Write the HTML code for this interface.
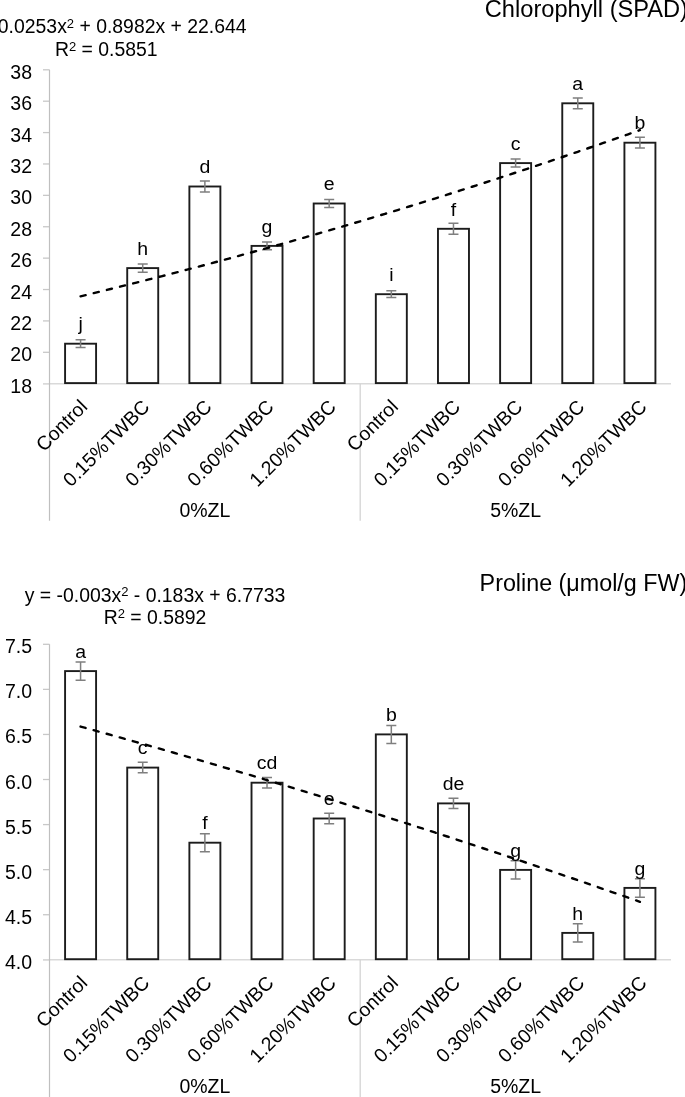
<!DOCTYPE html>
<html><head><meta charset="utf-8"><style>
html,body{margin:0;padding:0;background:#fff;}
svg{display:block;will-change:transform;}
text{font-family:"Liberation Sans",sans-serif;fill:#000;}
</style></head><body>
<svg width="685" height="1097" viewBox="0 0 685 1097">
<rect width="685" height="1097" fill="#fff"/>

<line x1="43" y1="69.80" x2="49.5" y2="69.80" stroke="#c8c8c8" stroke-width="1.3"/>
<text x="32" y="78.80" font-size="19.5" text-anchor="end">38</text>
<line x1="43" y1="101.19" x2="49.5" y2="101.19" stroke="#c8c8c8" stroke-width="1.3"/>
<text x="32" y="110.19" font-size="19.5" text-anchor="end">36</text>
<line x1="43" y1="132.58" x2="49.5" y2="132.58" stroke="#c8c8c8" stroke-width="1.3"/>
<text x="32" y="141.58" font-size="19.5" text-anchor="end">34</text>
<line x1="43" y1="163.97" x2="49.5" y2="163.97" stroke="#c8c8c8" stroke-width="1.3"/>
<text x="32" y="172.97" font-size="19.5" text-anchor="end">32</text>
<line x1="43" y1="195.36" x2="49.5" y2="195.36" stroke="#c8c8c8" stroke-width="1.3"/>
<text x="32" y="204.36" font-size="19.5" text-anchor="end">30</text>
<line x1="43" y1="226.75" x2="49.5" y2="226.75" stroke="#c8c8c8" stroke-width="1.3"/>
<text x="32" y="235.75" font-size="19.5" text-anchor="end">28</text>
<line x1="43" y1="258.14" x2="49.5" y2="258.14" stroke="#c8c8c8" stroke-width="1.3"/>
<text x="32" y="267.14" font-size="19.5" text-anchor="end">26</text>
<line x1="43" y1="289.53" x2="49.5" y2="289.53" stroke="#c8c8c8" stroke-width="1.3"/>
<text x="32" y="298.53" font-size="19.5" text-anchor="end">24</text>
<line x1="43" y1="320.92" x2="49.5" y2="320.92" stroke="#c8c8c8" stroke-width="1.3"/>
<text x="32" y="329.92" font-size="19.5" text-anchor="end">22</text>
<line x1="43" y1="352.31" x2="49.5" y2="352.31" stroke="#c8c8c8" stroke-width="1.3"/>
<text x="32" y="361.31" font-size="19.5" text-anchor="end">20</text>
<line x1="43" y1="383.70" x2="49.5" y2="383.70" stroke="#c8c8c8" stroke-width="1.3"/>
<text x="32" y="392.70" font-size="19.5" text-anchor="end">18</text>
<line x1="43" y1="383.7" x2="671" y2="383.7" stroke="#d9d9d9" stroke-width="1.6"/>
<line x1="49.5" y1="69.8" x2="49.5" y2="520.7" stroke="#bfbfbf" stroke-width="1.2"/>
<line x1="360.2" y1="383.7" x2="360.2" y2="520.7" stroke="#d4d4d4" stroke-width="1.3"/>
<rect x="65.08" y="343.7" width="31.0" height="39.40" fill="#fff" stroke="#1c1c1c" stroke-width="1.9"/>
<rect x="127.22" y="268.1" width="31.0" height="115.00" fill="#fff" stroke="#1c1c1c" stroke-width="1.9"/>
<rect x="189.38" y="186.5" width="31.0" height="196.60" fill="#fff" stroke="#1c1c1c" stroke-width="1.9"/>
<rect x="251.52" y="245.9" width="31.0" height="137.20" fill="#fff" stroke="#1c1c1c" stroke-width="1.9"/>
<rect x="313.68" y="203.5" width="31.0" height="179.60" fill="#fff" stroke="#1c1c1c" stroke-width="1.9"/>
<rect x="375.82" y="294.2" width="31.0" height="88.90" fill="#fff" stroke="#1c1c1c" stroke-width="1.9"/>
<rect x="437.97" y="228.8" width="31.0" height="154.30" fill="#fff" stroke="#1c1c1c" stroke-width="1.9"/>
<rect x="500.12" y="163.1" width="31.0" height="220.00" fill="#fff" stroke="#1c1c1c" stroke-width="1.9"/>
<rect x="562.27" y="103.3" width="31.0" height="279.80" fill="#fff" stroke="#1c1c1c" stroke-width="1.9"/>
<rect x="624.42" y="142.7" width="31.0" height="240.40" fill="#fff" stroke="#1c1c1c" stroke-width="1.9"/>
<path d="M80.58 339.80V347.60M75.58 339.80H85.58M75.58 347.60H85.58" stroke="#7f7f7f" stroke-width="1.5" fill="none"/>
<path d="M142.72 264.05V272.15M137.72 264.05H147.72M137.72 272.15H147.72" stroke="#7f7f7f" stroke-width="1.5" fill="none"/>
<path d="M204.88 180.95V192.05M199.88 180.95H209.88M199.88 192.05H209.88" stroke="#7f7f7f" stroke-width="1.5" fill="none"/>
<path d="M267.02 241.95V249.85M262.02 241.95H272.02M262.02 249.85H272.02" stroke="#7f7f7f" stroke-width="1.5" fill="none"/>
<path d="M329.18 199.60V207.40M324.18 199.60H334.18M324.18 207.40H334.18" stroke="#7f7f7f" stroke-width="1.5" fill="none"/>
<path d="M391.32 290.80V297.60M386.32 290.80H396.32M386.32 297.60H396.32" stroke="#7f7f7f" stroke-width="1.5" fill="none"/>
<path d="M453.47 223.30V234.30M448.47 223.30H458.47M448.47 234.30H458.47" stroke="#7f7f7f" stroke-width="1.5" fill="none"/>
<path d="M515.62 159.10V167.10M510.62 159.10H520.62M510.62 167.10H520.62" stroke="#7f7f7f" stroke-width="1.5" fill="none"/>
<path d="M577.77 97.90V108.70M572.77 97.90H582.77M572.77 108.70H582.77" stroke="#7f7f7f" stroke-width="1.5" fill="none"/>
<path d="M639.92 137.30V148.10M634.92 137.30H644.92M634.92 148.10H644.92" stroke="#7f7f7f" stroke-width="1.5" fill="none"/>
<polyline points="80.58,296.32 86.79,294.82 93.00,293.32 99.22,291.81 105.44,290.30 111.65,288.77 117.87,287.24 124.08,285.70 130.30,284.15 136.51,282.59 142.72,281.03 148.94,279.46 155.16,277.88 161.37,276.29 167.59,274.69 173.80,273.09 180.02,271.48 186.23,269.86 192.44,268.23 198.66,266.59 204.88,264.95 211.09,263.29 217.31,261.64 223.52,259.97 229.74,258.29 235.95,256.61 242.16,254.92 248.38,253.22 254.59,251.51 260.81,249.79 267.02,248.07 273.24,246.34 279.46,244.60 285.67,242.85 291.88,241.10 298.10,239.33 304.31,237.56 310.53,235.78 316.75,234.00 322.96,232.20 329.18,230.40 335.39,228.59 341.61,226.77 347.82,224.94 354.04,223.11 360.25,221.27 366.47,219.42 372.68,217.56 378.90,215.69 385.11,213.82 391.32,211.93 397.54,210.04 403.75,208.15 409.97,206.24 416.19,204.33 422.40,202.40 428.62,200.47 434.83,198.54 441.05,196.59 447.26,194.64 453.47,192.67 459.69,190.70 465.91,188.73 472.12,186.74 478.34,184.75 484.55,182.75 490.77,180.74 496.98,178.72 503.20,176.70 509.41,174.66 515.62,172.62 521.84,170.57 528.05,168.52 534.27,166.45 540.49,164.38 546.70,162.30 552.92,160.21 559.13,158.11 565.35,156.01 571.56,153.89 577.77,151.77 583.99,149.64 590.21,147.51 596.42,145.36 602.63,143.21 608.85,141.05 615.06,138.88 621.28,136.71 627.50,134.52 633.71,132.33 639.92,130.13" fill="none" stroke="#000" stroke-width="2.4" stroke-linecap="round" stroke-dasharray="5.2 8.34"/>
<text transform="translate(80.58,330.40) scale(1,0.97)" font-size="19.5" text-anchor="middle">j</text>
<text transform="translate(142.72,254.80) scale(1,0.97)" font-size="19.5" text-anchor="middle">h</text>
<text transform="translate(204.88,173.20) scale(1,0.97)" font-size="19.5" text-anchor="middle">d</text>
<text transform="translate(267.02,232.60) scale(1,0.97)" font-size="19.5" text-anchor="middle">g</text>
<text transform="translate(329.18,190.20) scale(1,0.97)" font-size="19.5" text-anchor="middle">e</text>
<text transform="translate(391.32,280.90) scale(1,0.97)" font-size="19.5" text-anchor="middle">i</text>
<text transform="translate(453.47,215.50) scale(1,0.97)" font-size="19.5" text-anchor="middle">f</text>
<text transform="translate(515.62,149.80) scale(1,0.97)" font-size="19.5" text-anchor="middle">c</text>
<text transform="translate(577.77,90.00) scale(1,0.97)" font-size="19.5" text-anchor="middle">a</text>
<text transform="translate(639.92,129.40) scale(1,0.97)" font-size="19.5" text-anchor="middle">b</text>
<text transform="translate(88.58,408.00) rotate(-45)" font-size="19.5" text-anchor="end">Control</text>
<text transform="translate(150.72,408.00) rotate(-45)" font-size="19.5" text-anchor="end">0.15%TWBC</text>
<text transform="translate(212.88,408.00) rotate(-45)" font-size="19.5" text-anchor="end">0.30%TWBC</text>
<text transform="translate(275.02,408.00) rotate(-45)" font-size="19.5" text-anchor="end">0.60%TWBC</text>
<text transform="translate(337.18,408.00) rotate(-45)" font-size="19.5" text-anchor="end">1.20%TWBC</text>
<text transform="translate(399.32,408.00) rotate(-45)" font-size="19.5" text-anchor="end">Control</text>
<text transform="translate(461.47,408.00) rotate(-45)" font-size="19.5" text-anchor="end">0.15%TWBC</text>
<text transform="translate(523.62,408.00) rotate(-45)" font-size="19.5" text-anchor="end">0.30%TWBC</text>
<text transform="translate(585.77,408.00) rotate(-45)" font-size="19.5" text-anchor="end">0.60%TWBC</text>
<text transform="translate(647.92,408.00) rotate(-45)" font-size="19.5" text-anchor="end">1.20%TWBC</text>
<text x="204.88" y="517.0" font-size="19.5" text-anchor="middle">0%ZL</text>
<text x="515.62" y="517.0" font-size="19.5" text-anchor="middle">5%ZL</text>
<text x="484.8" y="16.6" font-size="23.65">Chlorophyll (SPAD)</text>
<text x="106.3" y="33.300000000000004" font-size="19.4" text-anchor="middle">y = 0.0253x<tspan font-size="13" dy="-5.5">2</tspan><tspan dy="5.5"> + 0.8982x + 22.644</tspan></text>
<text x="106.3" y="56.1" font-size="19.4" text-anchor="middle">R<tspan font-size="13" dy="-5.5">2</tspan><tspan dy="5.5"> = 0.5851</tspan></text>
<line x1="43" y1="644.30" x2="49.5" y2="644.30" stroke="#c8c8c8" stroke-width="1.3"/>
<text x="32" y="653.30" font-size="19.5" text-anchor="end">7.5</text>
<line x1="43" y1="689.37" x2="49.5" y2="689.37" stroke="#c8c8c8" stroke-width="1.3"/>
<text x="32" y="698.37" font-size="19.5" text-anchor="end">7.0</text>
<line x1="43" y1="734.44" x2="49.5" y2="734.44" stroke="#c8c8c8" stroke-width="1.3"/>
<text x="32" y="743.44" font-size="19.5" text-anchor="end">6.5</text>
<line x1="43" y1="779.51" x2="49.5" y2="779.51" stroke="#c8c8c8" stroke-width="1.3"/>
<text x="32" y="788.51" font-size="19.5" text-anchor="end">6.0</text>
<line x1="43" y1="824.59" x2="49.5" y2="824.59" stroke="#c8c8c8" stroke-width="1.3"/>
<text x="32" y="833.59" font-size="19.5" text-anchor="end">5.5</text>
<line x1="43" y1="869.66" x2="49.5" y2="869.66" stroke="#c8c8c8" stroke-width="1.3"/>
<text x="32" y="878.66" font-size="19.5" text-anchor="end">5.0</text>
<line x1="43" y1="914.73" x2="49.5" y2="914.73" stroke="#c8c8c8" stroke-width="1.3"/>
<text x="32" y="923.73" font-size="19.5" text-anchor="end">4.5</text>
<line x1="43" y1="959.80" x2="49.5" y2="959.80" stroke="#c8c8c8" stroke-width="1.3"/>
<text x="32" y="968.80" font-size="19.5" text-anchor="end">4.0</text>
<line x1="43" y1="959.8" x2="671" y2="959.8" stroke="#d9d9d9" stroke-width="1.6"/>
<line x1="49.5" y1="644.3" x2="49.5" y2="1110" stroke="#bfbfbf" stroke-width="1.2"/>
<line x1="360.2" y1="959.8" x2="360.2" y2="1110" stroke="#d4d4d4" stroke-width="1.3"/>
<rect x="65.08" y="671.1" width="31.0" height="288.10" fill="#fff" stroke="#1c1c1c" stroke-width="1.9"/>
<rect x="127.22" y="767.6" width="31.0" height="191.60" fill="#fff" stroke="#1c1c1c" stroke-width="1.9"/>
<rect x="189.38" y="842.7" width="31.0" height="116.50" fill="#fff" stroke="#1c1c1c" stroke-width="1.9"/>
<rect x="251.52" y="782.7" width="31.0" height="176.50" fill="#fff" stroke="#1c1c1c" stroke-width="1.9"/>
<rect x="313.68" y="818.5" width="31.0" height="140.70" fill="#fff" stroke="#1c1c1c" stroke-width="1.9"/>
<rect x="375.82" y="734.4" width="31.0" height="224.80" fill="#fff" stroke="#1c1c1c" stroke-width="1.9"/>
<rect x="437.97" y="803.4" width="31.0" height="155.80" fill="#fff" stroke="#1c1c1c" stroke-width="1.9"/>
<rect x="500.12" y="869.9" width="31.0" height="89.30" fill="#fff" stroke="#1c1c1c" stroke-width="1.9"/>
<rect x="562.27" y="932.9" width="31.0" height="26.30" fill="#fff" stroke="#1c1c1c" stroke-width="1.9"/>
<rect x="624.42" y="887.9" width="31.0" height="71.30" fill="#fff" stroke="#1c1c1c" stroke-width="1.9"/>
<path d="M80.58 662.00V680.20M75.58 662.00H85.58M75.58 680.20H85.58" stroke="#7f7f7f" stroke-width="1.5" fill="none"/>
<path d="M142.72 762.35V772.85M137.72 762.35H147.72M137.72 772.85H147.72" stroke="#7f7f7f" stroke-width="1.5" fill="none"/>
<path d="M204.88 833.70V851.70M199.88 833.70H209.88M199.88 851.70H209.88" stroke="#7f7f7f" stroke-width="1.5" fill="none"/>
<path d="M267.02 777.45V787.95M262.02 777.45H272.02M262.02 787.95H272.02" stroke="#7f7f7f" stroke-width="1.5" fill="none"/>
<path d="M329.18 813.25V823.75M324.18 813.25H334.18M324.18 823.75H334.18" stroke="#7f7f7f" stroke-width="1.5" fill="none"/>
<path d="M391.32 725.40V743.40M386.32 725.40H396.32M386.32 743.40H396.32" stroke="#7f7f7f" stroke-width="1.5" fill="none"/>
<path d="M453.47 798.30V808.50M448.47 798.30H458.47M448.47 808.50H458.47" stroke="#7f7f7f" stroke-width="1.5" fill="none"/>
<path d="M515.62 860.80V879.00M510.62 860.80H520.62M510.62 879.00H520.62" stroke="#7f7f7f" stroke-width="1.5" fill="none"/>
<path d="M577.77 923.80V942.00M572.77 923.80H582.77M572.77 942.00H582.77" stroke="#7f7f7f" stroke-width="1.5" fill="none"/>
<path d="M639.92 878.65V897.15M634.92 878.65H644.92M634.92 897.15H644.92" stroke="#7f7f7f" stroke-width="1.5" fill="none"/>
<polyline points="80.58,726.57 86.79,728.28 93.00,729.99 99.22,731.71 105.44,733.43 111.65,735.16 117.87,736.89 124.08,738.63 130.30,740.38 136.51,742.13 142.72,743.88 148.94,745.64 155.16,747.41 161.37,749.18 167.59,750.96 173.80,752.74 180.02,754.52 186.23,756.32 192.44,758.12 198.66,759.92 204.88,761.73 211.09,763.54 217.31,765.36 223.52,767.19 229.74,769.02 235.95,770.86 242.16,772.70 248.38,774.54 254.59,776.40 260.81,778.25 267.02,780.12 273.24,781.99 279.46,783.86 285.67,785.74 291.88,787.63 298.10,789.52 304.31,791.41 310.53,793.31 316.75,795.22 322.96,797.13 329.18,799.05 335.39,800.97 341.61,802.90 347.82,804.83 354.04,806.77 360.25,808.72 366.47,810.67 372.68,812.62 378.90,814.58 385.11,816.55 391.32,818.52 397.54,820.50 403.75,822.48 409.97,824.47 416.19,826.46 422.40,828.46 428.62,830.46 434.83,832.47 441.05,834.49 447.26,836.51 453.47,838.53 459.69,840.56 465.91,842.60 472.12,844.64 478.34,846.69 484.55,848.74 490.77,850.80 496.98,852.86 503.20,854.93 509.41,857.00 515.62,859.08 521.84,861.17 528.05,863.26 534.27,865.35 540.49,867.46 546.70,869.56 552.92,871.67 559.13,873.79 565.35,875.91 571.56,878.04 577.77,880.18 583.99,882.32 590.21,884.46 596.42,886.61 602.63,888.77 608.85,890.93 615.06,893.09 621.28,895.26 627.50,897.44 633.71,899.62 639.92,901.81" fill="none" stroke="#000" stroke-width="2.4" stroke-linecap="round" stroke-dasharray="5.2 8.34"/>
<text transform="translate(80.58,657.80) scale(1,0.97)" font-size="19.5" text-anchor="middle">a</text>
<text transform="translate(142.72,754.30) scale(1,0.97)" font-size="19.5" text-anchor="middle">c</text>
<text transform="translate(204.88,829.40) scale(1,0.97)" font-size="19.5" text-anchor="middle">f</text>
<text transform="translate(267.02,769.40) scale(1,0.97)" font-size="19.5" text-anchor="middle">cd</text>
<text transform="translate(329.18,805.20) scale(1,0.97)" font-size="19.5" text-anchor="middle">e</text>
<text transform="translate(391.32,721.10) scale(1,0.97)" font-size="19.5" text-anchor="middle">b</text>
<text transform="translate(453.47,790.10) scale(1,0.97)" font-size="19.5" text-anchor="middle">de</text>
<text transform="translate(515.62,856.60) scale(1,0.97)" font-size="19.5" text-anchor="middle">g</text>
<text transform="translate(577.77,919.60) scale(1,0.97)" font-size="19.5" text-anchor="middle">h</text>
<text transform="translate(639.92,874.60) scale(1,0.97)" font-size="19.5" text-anchor="middle">g</text>
<text transform="translate(88.58,984.10) rotate(-45)" font-size="19.5" text-anchor="end">Control</text>
<text transform="translate(150.72,984.10) rotate(-45)" font-size="19.5" text-anchor="end">0.15%TWBC</text>
<text transform="translate(212.88,984.10) rotate(-45)" font-size="19.5" text-anchor="end">0.30%TWBC</text>
<text transform="translate(275.02,984.10) rotate(-45)" font-size="19.5" text-anchor="end">0.60%TWBC</text>
<text transform="translate(337.18,984.10) rotate(-45)" font-size="19.5" text-anchor="end">1.20%TWBC</text>
<text transform="translate(399.32,984.10) rotate(-45)" font-size="19.5" text-anchor="end">Control</text>
<text transform="translate(461.47,984.10) rotate(-45)" font-size="19.5" text-anchor="end">0.15%TWBC</text>
<text transform="translate(523.62,984.10) rotate(-45)" font-size="19.5" text-anchor="end">0.30%TWBC</text>
<text transform="translate(585.77,984.10) rotate(-45)" font-size="19.5" text-anchor="end">0.60%TWBC</text>
<text transform="translate(647.92,984.10) rotate(-45)" font-size="19.5" text-anchor="end">1.20%TWBC</text>
<text x="204.88" y="1093.2" font-size="19.5" text-anchor="middle">0%ZL</text>
<text x="515.62" y="1093.2" font-size="19.5" text-anchor="middle">5%ZL</text>
<text x="479.6" y="590.7" font-size="23.3">Proline (μmol/g FW)</text>
<text x="155.0" y="601.5" font-size="19.4" text-anchor="middle">y = -0.003x<tspan font-size="13" dy="-5.5">2</tspan><tspan dy="5.5"> - 0.183x + 6.7733</tspan></text>
<text x="155.0" y="623.7" font-size="19.4" text-anchor="middle">R<tspan font-size="13" dy="-5.5">2</tspan><tspan dy="5.5"> = 0.5892</tspan></text>
</svg></body></html>
